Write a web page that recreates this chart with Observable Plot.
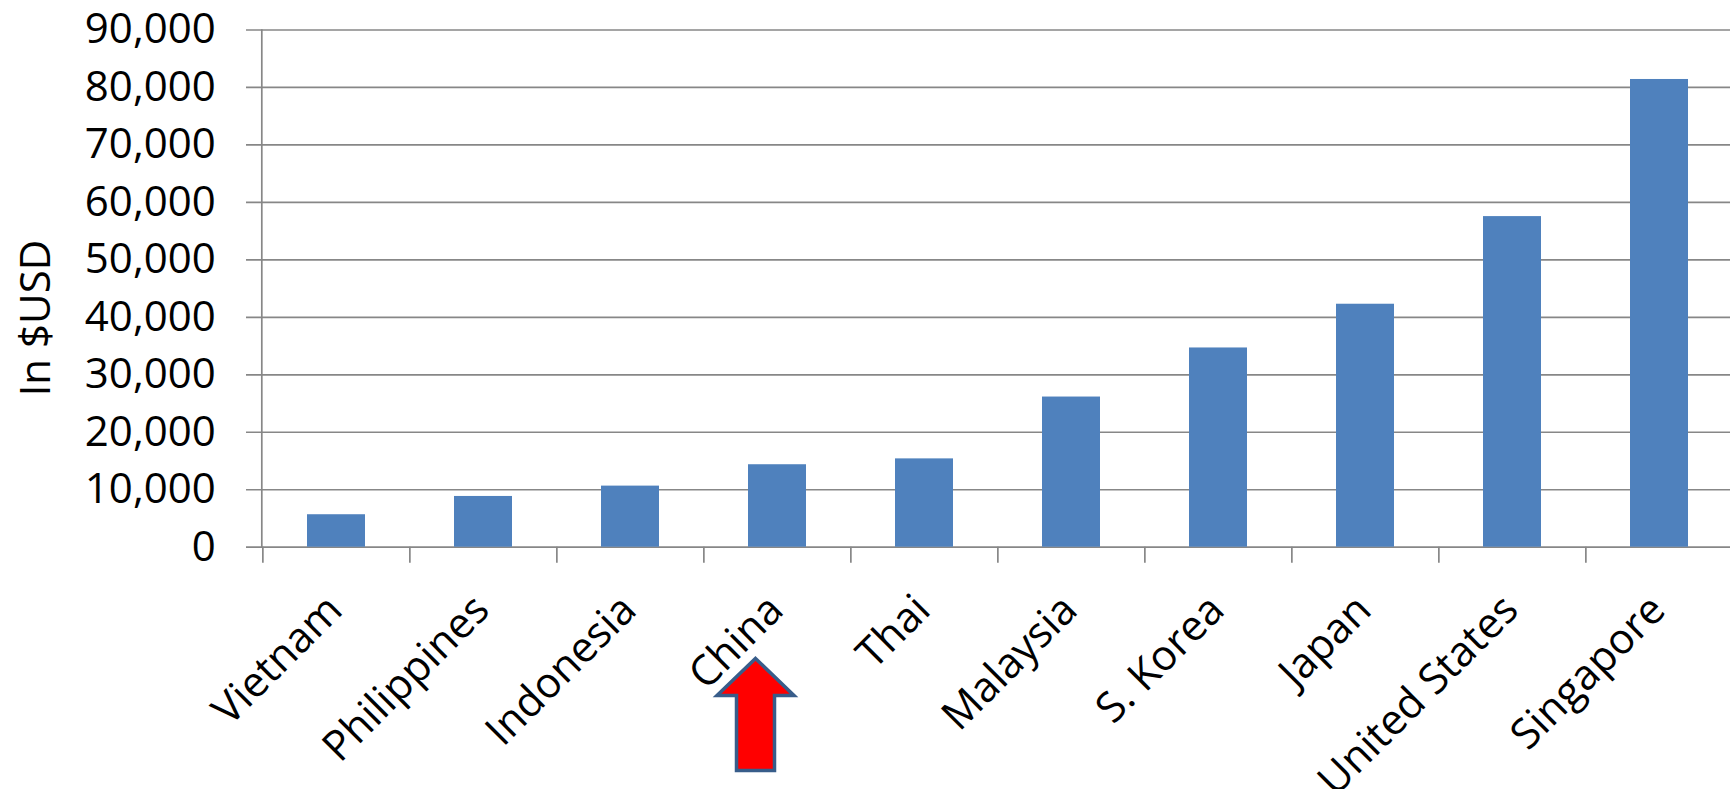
<!DOCTYPE html>
<html>
<head>
<meta charset="utf-8">
<script src="https://cdn.jsdelivr.net/npm/d3@7"></script>
<script src="https://cdn.jsdelivr.net/npm/@observablehq/plot@0.6"></script>
<style>
  html, body { margin: 0; padding: 0; background: #fff; overflow: hidden; }
  #chart svg { display: block; }
</style>
</head>
<body>
<div id="chart"></div>
<script>
// ---- data ----
const countries = ["Vietnam", "Philippines", "Indonesia", "China", "Thai", "Malaysia", "S. Korea", "Japan", "United States", "Singapore"];
const gdpPerCapita = [5650, 8830, 10630, 14350, 15370, 26130, 34670, 42280, 57530, 81390];
const yTicks = [0, 10000, 20000, 30000, 40000, 50000, 60000, 70000, 80000, 90000];
const yLabel = "In $USD";
const highlighted = ["China"];

const rows = countries.map((c, i) => ({country: c, value: gdpPerCapita[i]}));

// ---- layout ----
const W = 1730, H = 789;
const mLeft = 261.3, mRight = -4, mTop = 29.5, mBottom = 242.3;
const step = (W - mLeft - mRight) / countries.length;
const grey = "#878787";
const font = "'Open Sans', 'Noto Sans', sans-serif";

// block-arrow symbol (shape relative to its centre; scaled by r)
const blockArrow = {
  draw(context, size) {
    const u = Math.sqrt(size / Math.PI) / 56;
    context.moveTo(0, -56 * u);
    context.lineTo(38.5 * u, -19 * u);
    context.lineTo(19 * u, -19 * u);
    context.lineTo(19 * u, 56 * u);
    context.lineTo(-19 * u, 56 * u);
    context.lineTo(-19 * u, -19 * u);
    context.lineTo(-38.5 * u, -19 * u);
    context.closePath();
  }
};

const chart = Plot.plot({
  width: W,
  height: H,
  marginLeft: mLeft,
  marginRight: mRight,
  marginTop: mTop,
  marginBottom: mBottom,
  style: {fontFamily: font, fontSize: "42px", color: "#000", background: "#fff", overflow: "visible"},
  x: {type: "band", domain: countries, paddingInner: 0.604, paddingOuter: 0.302, axis: null},
  y: {domain: [0, 90000], axis: null},
  marks: [
    // horizontal gridlines (extend 15px left of axis as tick marks)
    Plot.ruleY(yTicks, {stroke: grey, strokeWidth: 1.7, insetLeft: -15.3}),
    // vertical axis line
    Plot.frame({anchor: "left", stroke: grey, strokeWidth: 1.7}),
    // category boundary ticks below the baseline
    Plot.ruleX(countries, {x: d => d, y1: 0, y2: 0, insetBottom: -16, dx: -step / 2, stroke: grey, strokeWidth: 1.7}),
    // bars
    Plot.barY(rows, {x: "country", y: "value", fill: "#4F81BD"}),
    // y tick labels
    Plot.axisY({ticks: yTicks, tickSize: 0, tickPadding: 46, tickFormat: d3.format(","), label: null, fontSize: 42, fill: "#000"}),
    // y title
    Plot.text([yLabel], {text: d => d, frameAnchor: "left", rotate: -90, textAnchor: "middle", lineAnchor: "bottom", dx: -211.3, dy: 29.5, fontSize: 42, fill: "#000"}),
    // rotated category labels
    Plot.text(countries, {x: d => d, frameAnchor: "bottom", text: d => d, rotate: -45, textAnchor: "end", lineAnchor: "bottom", dx: 8, dy: 65, fontSize: 42, fill: "#000"}),
    // highlight arrow under China
    Plot.dot(highlighted, {x: d => d, frameAnchor: "bottom", symbol: blockArrow, r: 56, fill: "#FF0000", stroke: "#385D8A", strokeWidth: 3.5, dx: -22, dy: 167.3})
  ]
});

document.getElementById("chart").append(chart);
</script>
</body>
</html>
